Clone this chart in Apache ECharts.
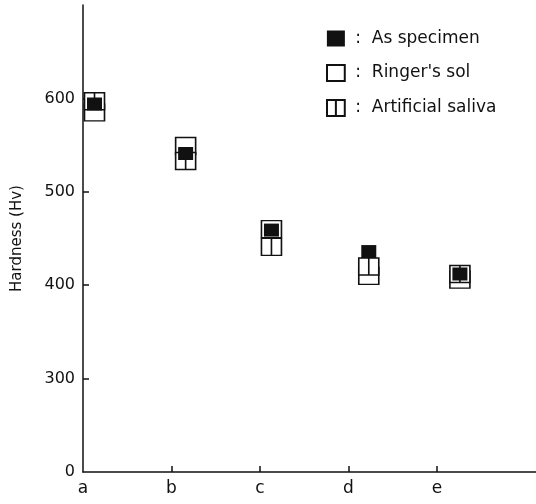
<!DOCTYPE html>
<html>
<head>
<meta charset="utf-8">
<script src="https://cdn.jsdelivr.net/npm/echarts@6/dist/echarts.min.js"></script>
<style>
  html, body { margin: 0; padding: 0; background: #fff; }
  #chart { width: 536px; height: 504px; }
</style>
</head>
<body>
<div id="chart"></div>
<script>
// specimens a–e, x position of each marker group on the axis
const specimens = ['a', 'b', 'c', 'd', 'e'];
const xPos = [0.13, 1.16, 2.13, 3.23, 4.26];

// hardness (Hv) per condition
const asSpecimen = [594, 541, 459, 436, 412];
const ringers = [585, 549, 460, 410, 406];
const saliva = [597, 533, 441, 420, 412];

// y axis is broken: the bottom tick stands for 0
const yTicks = [200, 300, 400, 500, 600];
const yTickLabels = ['0', '300', '400', '500', '600'];

const font = 'DejaVu Sans';
let chart = echarts.init(document.getElementById('chart'));

function pts(vals) {
    return vals.map((v, i) => [xPos[i], v]);
}

const boxPath = 'path://M0 0H20V18H0Z';
const splitPath = 'path://M0 0H20V18H0ZM10 0V18';

let option = {
    animation: false,
    grid: { left: 83, right: 0, top: 5, bottom: 32 },
    legend: {
        orient: 'vertical',
        left: 326,
        top: 30,
        padding: 0,
        itemWidth: 18,
        itemHeight: 16,
        itemGap: 17,
        selectedMode: false,
        data: ['As specimen', "Ringer's sol", 'Artificial saliva'],
        formatter: name => ' :  ' + name,
        textStyle: { fontFamily: font, fontSize: 17, color: '#111' }
    },
    xAxis: {
        type: 'value',
        min: 0,
        max: 5.12,
        interval: 1,
        splitLine: { show: false },
        axisLine: { lineStyle: { color: '#111', width: 1.5 } },
        axisTick: { inside: true, length: 6, customValues: [1, 2, 3, 4], lineStyle: { color: '#111', width: 1.5 } },
        axisLabel: {
            customValues: [0, 1, 2, 3, 4],
            formatter: v => specimens[Math.round(v)] || '',
            margin: 8,
            fontFamily: font, fontSize: 17, color: '#111'
        }
    },
    yAxis: {
        type: 'value',
        min: 200,
        max: 700,
        interval: 100,
        name: 'Hardness (Hv)',
        nameLocation: 'middle',
        nameGap: 58,
        nameTextStyle: { fontFamily: font, fontSize: 15, color: '#111' },
        splitLine: { show: false },
        axisLine: { show: true, lineStyle: { color: '#111', width: 1.5 } },
        axisTick: { inside: true, length: 6, customValues: [300, 400, 500, 600], lineStyle: { color: '#111', width: 1.5 } },
        axisLabel: {
            customValues: yTicks,
            formatter: v => yTickLabels[yTicks.indexOf(v)] || '',
            margin: 8,
            fontFamily: font, fontSize: 16, color: '#111'
        }
    },
    series: [
        {
            name: "Ringer's sol",
            type: 'scatter',
            symbol: boxPath,
            symbolSize: [20, 17],
            itemStyle: { color: '#fff', borderColor: '#111', borderWidth: 1.5, opacity: 1 },
            data: pts(ringers),
            z: 2
        },
        {
            name: 'Artificial saliva',
            type: 'scatter',
            symbol: splitPath,
            symbolSize: [20, 17],
            itemStyle: { color: '#fff', borderColor: '#111', borderWidth: 1.5, opacity: 1 },
            data: pts(saliva),
            z: 3
        },
        {
            name: 'As specimen',
            type: 'scatter',
            symbol: 'rect',
            symbolSize: [15, 13],
            itemStyle: { color: '#111', opacity: 1 },
            data: pts(asSpecimen),
            z: 4
        }
    ]
};

chart.setOption(option);
</script>
</body>
</html>
